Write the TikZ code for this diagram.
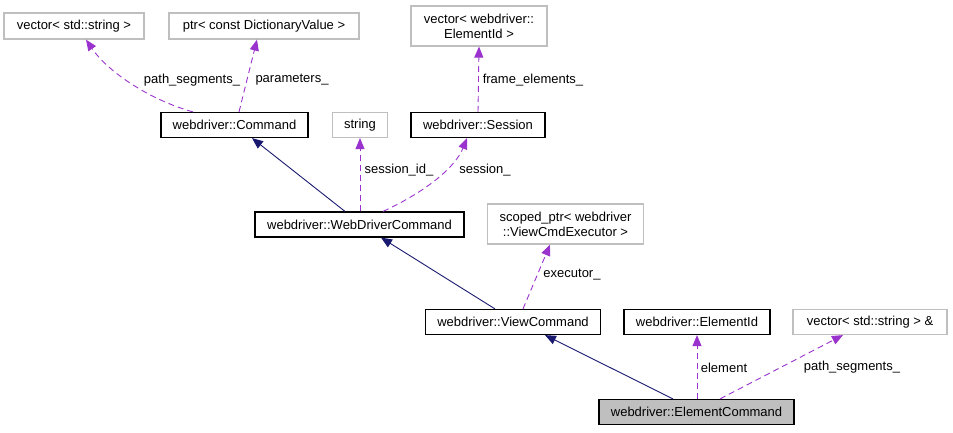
\documentclass[tikz,border=0pt]{standalone}
\usepackage{fontspec}
\setmainfont{Liberation Sans}
\usetikzlibrary{arrows.meta}

\definecolor{edgeblue}{HTML}{191970}
\definecolor{edgepurple}{HTML}{9A32CD}
\definecolor{extgray}{HTML}{BFBFBF}

\begin{document}
\begin{tikzpicture}[
  x=1pt, y=-1pt,
  font=\fontsize{13}{15}\selectfont,
  cls/.style={draw=black, line width=1.2pt, fill=white, align=center, inner sep=2pt, minimum height=25pt},
  ext/.style={draw=extgray, line width=1.2pt, fill=white, align=center, inner sep=2pt, minimum height=25pt},
  focus/.style={cls, fill=extgray},
  inherit/.style={-{Triangle[length=11pt, width=9pt]}, draw=edgeblue, line width=0.9pt},
  member/.style={-{Triangle[length=11pt, width=9pt]}, draw=edgepurple, line width=0.9pt, dash pattern=on 6pt off 4pt},
  lbl/.style={inner sep=1pt}
]
\useasboundingbox (0,0) rectangle (953,432);

% --- top row: member types ---
\node[ext, minimum width=140pt, minimum height=26pt] (vecstr) at (74,26) {vector< std::string >};
\node[ext, minimum width=190pt, minimum height=26pt] (ptrdict) at (264,26) {ptr< const DictionaryValue >};
\node[ext, minimum width=136pt, minimum height=40pt] (veceid) at (479,26) {vector< webdriver::\\ElementId >};

% --- second row ---
\node[cls, minimum width=147pt] (command) at (234.5,125) {webdriver::Command};
\node[ext, minimum width=55pt] (string) at (360,125) {string};
\node[cls, minimum width=134pt] (session) at (478,125) {webdriver::Session};

% --- third row ---
\node[cls, minimum width=209pt] (wdcmd) at (359.5,224.5) {webdriver::WebDriverCommand};
\node[ext, minimum width=156pt, minimum height=40pt] (scoped) at (565.5,224) {scoped\_ptr< webdriver\\::ViewCmdExecutor >};

% --- fourth row ---
\node[cls, minimum width=175pt] (viewcmd) at (513,322) {webdriver::ViewCommand};
\node[cls, minimum width=146pt] (elemid) at (697,322) {webdriver::ElementId};
\node[ext, minimum width=154pt] (vecref) at (870,322) {vector< std::string > \&};

% --- the class itself ---
\node[focus, minimum width=195pt] (elemcmd) at (696.5,412) {webdriver::ElementCommand};

% inheritance
\draw[inherit] (wdcmd.north -| 345,0) -- (command.south -| 252,0);
\draw[inherit] (viewcmd.north -| 495,0) -- (wdcmd.south -| 381,0);
\draw[inherit] (elemcmd.north -| 673,0) -- (viewcmd.south -| 545,0);

% members
\draw[member] (command.north -| 193,0) .. controls (150,100) and (108,72) .. (vecstr.south -| 86,0);
\node[lbl] (l1) at (192,80) {path\_segments\_};
\draw[member] (command.north -| 239,0) -- (ptrdict.south -| 257,0);
\node[lbl] (l2) at (292,80) {parameters\_};
\draw[member] (session.north) -- (veceid.south);
\node[lbl] (l3) at (533,80) {frame\_elements\_};
\draw[member] (wdcmd.north -| string.south) -- (string.south);
\node[lbl] (l4) at (399,170) {session\_id\_};
\draw[member] (wdcmd.north -| 383,0) .. controls (425,192) and (455,168) .. (session.south -| 467,0);
\node[lbl] (l5) at (485,170) {session\_};
\draw[member] (viewcmd.north -| 523,0) -- (scoped.south -| 550,0);
\node[lbl] (l6) at (572,275) {executor\_};
\draw[member] (elemcmd.north -| elemid.south) -- (elemid.south);
\node[lbl] (l7) at (724,368) {element};
\draw[member] (elemcmd.north -| 720,0) -- (vecref.south -| 843,0);
\node[lbl] (l8) at (852,367) {path\_segments\_};

\end{tikzpicture}
\end{document}
